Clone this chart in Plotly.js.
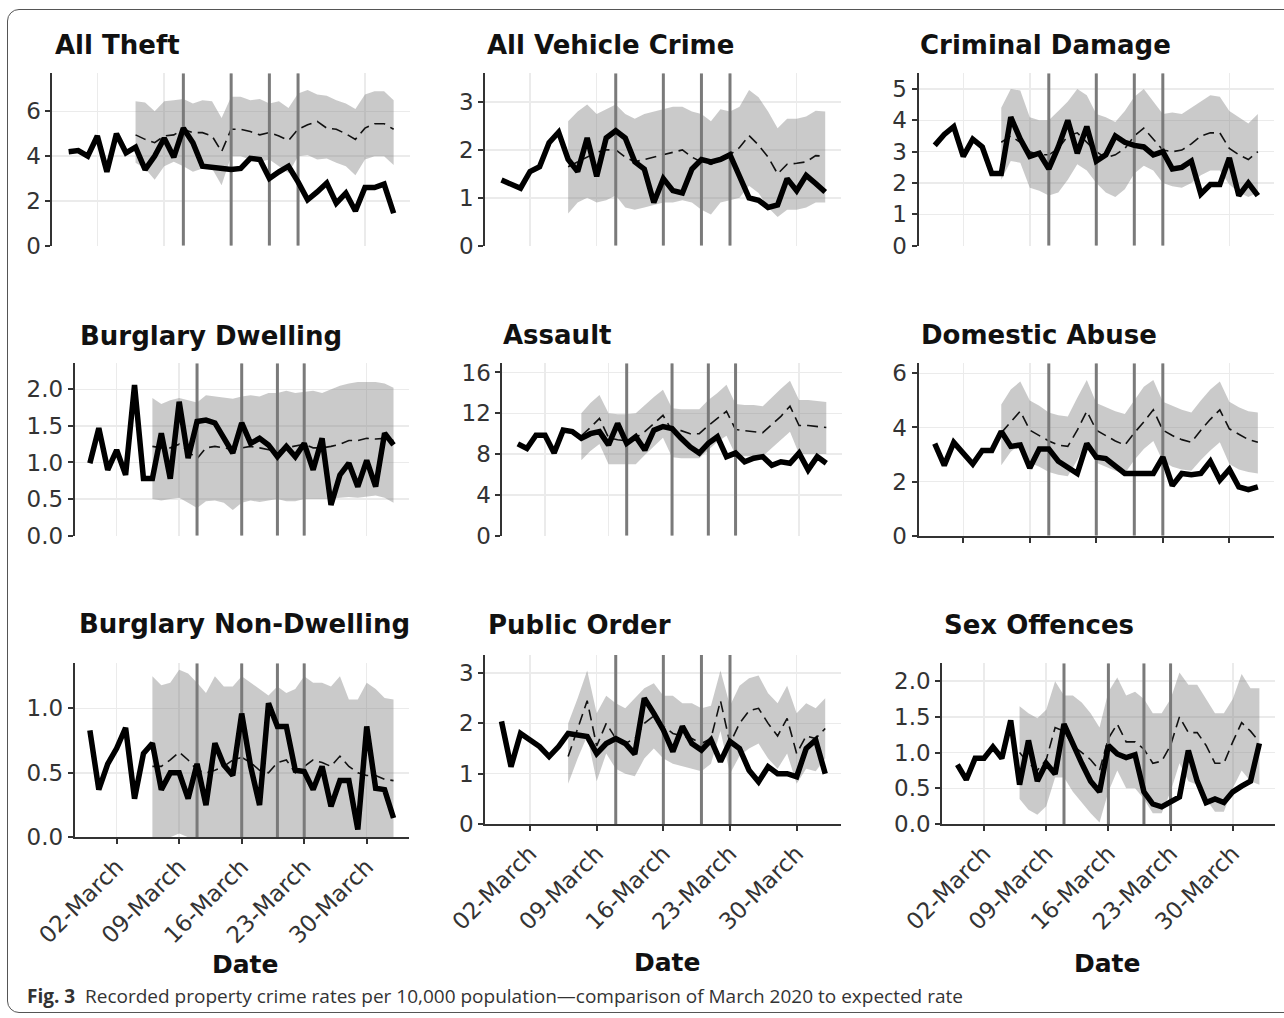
<!DOCTYPE html>
<html><head><meta charset="utf-8">
<script src="https://cdn.plot.ly/plotly-3.0.1.min.js"></script>
<style>
html,body{margin:0;padding:0;background:#fff;}
#frame{position:absolute;left:7px;top:9px;width:1300px;height:1004px;border:1.5px solid #555;border-radius:12px;box-sizing:border-box;}
#chart{position:absolute;left:0;top:0;width:1284px;height:1018px;}
</style></head><body>
<div id="frame"></div>
<div id="chart"></div>
<script>
// ---- shared x data ----
const dates = ['2020-02-28','2020-02-29','2020-03-01','2020-03-02','2020-03-03','2020-03-04','2020-03-05',
  '2020-03-06','2020-03-07','2020-03-08','2020-03-09','2020-03-10','2020-03-11','2020-03-12','2020-03-13',
  '2020-03-14','2020-03-15','2020-03-16','2020-03-17','2020-03-18','2020-03-19','2020-03-20','2020-03-21',
  '2020-03-22','2020-03-23','2020-03-24','2020-03-25','2020-03-26','2020-03-27','2020-03-28','2020-03-29',
  '2020-03-30','2020-03-31','2020-04-01','2020-04-02'];
const expDates = dates.slice(7);
const eventDates = ['2020-03-11','2020-03-16','2020-03-20','2020-03-23'];
const tickDates = ['2020-03-02','2020-03-09','2020-03-16','2020-03-23','2020-03-30'];
const tickLabels = ['02-March','09-March','16-March','23-March','30-March'];
const xRange = ['2020-02-26 07:12','2020-04-03 16:48'];

// ---- All Theft ----
const theftObs = [4.2,4.25,4.0,4.9,3.3,5.0,4.15,4.4,3.4,4.0,4.8,3.95,5.25,4.6,3.55,3.5,3.5,3.4,3.45,3.9,3.85,3.0,3.3,3.55,2.85,2.05,2.4,2.8,1.9,2.35,1.55,2.6,2.6,2.75,1.45];
const theftExp = [4.95,4.75,4.6,4.9,4.95,5.2,5.05,5.05,4.9,4.2,5.2,5.2,5.1,4.95,5.05,4.9,4.7,5.2,5.4,5.55,5.25,5.2,5.0,4.75,5.25,5.45,5.45,5.2];
const theftHi = [6.45,6.4,6.0,6.45,6.5,6.55,6.35,6.5,6.45,5.7,6.65,6.65,6.5,6.55,6.35,6.45,6.15,6.8,6.95,6.75,6.7,6.5,6.35,6.1,6.75,6.9,6.9,6.5];
const theftLo = [3.7,3.45,2.95,3.55,3.75,3.55,3.3,3.45,3.45,2.7,4.0,4.0,3.85,3.75,3.85,3.55,3.25,4.0,4.05,3.85,3.9,3.7,3.55,3.15,3.85,4.0,4.0,3.6];

// ---- All Vehicle Crime ----
const vehObs = [1.37,1.3,1.2,1.55,1.65,2.15,2.37,1.8,1.55,2.25,1.45,2.25,2.4,2.25,1.75,1.6,0.9,1.4,1.15,1.1,1.6,1.8,1.75,1.8,1.9,1.45,1.0,0.95,0.8,0.85,1.4,1.15,1.47,1.3,1.12];
const vehExp = [1.65,1.75,1.85,1.95,2.0,2.0,1.85,1.75,1.8,1.85,1.9,1.95,2.0,1.85,1.75,1.7,1.8,1.9,2.05,2.3,2.1,1.85,1.5,1.7,1.72,1.75,1.88,1.87];
const vehHi = [2.6,2.8,2.95,2.75,2.85,2.95,2.75,2.65,2.75,2.8,2.85,2.9,2.9,2.8,2.75,2.6,2.85,2.8,2.9,3.25,3.1,2.8,2.45,2.65,2.65,2.7,2.82,2.8];
const vehLo = [0.67,0.9,1.0,0.9,0.95,1.05,0.8,0.75,0.8,0.85,0.9,0.9,0.95,0.9,0.75,0.65,0.9,0.95,1.0,1.25,1.1,0.8,0.6,0.75,0.75,0.8,0.9,0.9];

// ---- Criminal Damage ----
const dmgObs = [3.2,3.55,3.8,2.85,3.4,3.15,2.3,2.3,4.1,3.4,2.85,2.95,2.45,3.15,4.0,2.95,3.8,2.7,2.9,3.5,3.3,3.2,3.15,2.9,3.0,2.45,2.5,2.7,1.65,1.95,1.95,2.8,1.6,2.0,1.6];
const dmgExp = [3.3,3.5,3.3,3.0,2.9,2.9,3.1,3.5,3.6,3.3,3.0,2.8,2.9,3.1,3.5,3.75,3.4,3.05,3.0,3.05,3.25,3.5,3.6,3.6,3.1,2.9,2.75,3.0];
const dmgHi = [4.4,5.0,4.95,4.1,4.0,4.0,4.3,4.6,5.0,4.8,4.2,4.1,3.95,4.3,4.75,5.0,4.6,4.2,4.25,4.2,4.4,4.6,4.8,4.75,4.3,4.1,3.9,4.2];
const dmgLo = [2.1,2.7,2.65,1.85,1.75,1.6,1.7,2.1,2.6,2.4,2.0,1.7,1.55,1.8,2.3,2.55,2.4,2.0,1.9,1.85,2.0,2.25,2.4,2.4,1.95,1.7,1.55,1.7];

// ---- Burglary Dwelling ----
const bdObs = [0.99,1.47,0.9,1.17,0.83,2.06,0.78,0.78,1.4,0.78,1.83,1.06,1.56,1.58,1.54,1.35,1.13,1.54,1.26,1.33,1.24,1.08,1.22,1.08,1.26,0.9,1.33,0.42,0.83,0.99,0.67,1.03,0.67,1.4,1.24];
const bdExp = [1.22,1.2,1.2,1.25,1.15,1.05,1.2,1.22,1.2,1.18,1.2,1.22,1.2,1.18,1.15,1.2,1.22,1.25,1.2,1.2,1.22,1.25,1.3,1.3,1.33,1.32,1.33,1.3];
const bdHi = [1.88,1.8,1.85,1.88,1.85,1.82,1.92,1.9,1.88,1.87,1.9,1.92,1.9,1.95,1.95,1.98,1.95,1.97,1.98,1.95,2.0,2.05,2.08,2.1,2.1,2.1,2.08,2.02];
const bdLo = [0.5,0.48,0.5,0.52,0.45,0.38,0.47,0.48,0.45,0.35,0.45,0.48,0.46,0.48,0.5,0.47,0.47,0.5,0.5,0.5,0.5,0.52,0.53,0.52,0.53,0.55,0.52,0.45];

// ---- Assault ----
const asObs = [9.0,8.55,9.85,9.85,8.1,10.35,10.2,9.55,10.0,10.2,8.9,11.0,9.05,9.7,8.4,10.35,10.7,10.5,9.55,8.7,8.1,9.05,9.7,7.75,8.1,7.25,7.6,7.75,6.9,7.25,7.1,8.1,6.45,7.75,7.1];
const asExp = [9.8,10.6,11.5,9.6,9.4,9.3,9.6,10.2,11.0,11.8,10.3,10.3,10.0,10.0,10.8,11.5,12.2,10.4,10.3,10.2,10.1,10.9,11.7,12.7,10.8,10.8,10.7,10.6];
const asHi = [12.0,13.0,13.8,12.0,11.9,11.9,12.0,12.8,13.6,14.3,12.5,12.4,12.4,12.4,13.3,14.0,14.8,12.9,12.8,12.8,12.7,13.6,14.4,15.2,13.3,13.3,13.2,13.1];
const asLo = [7.4,8.3,9.0,7.0,7.0,7.0,7.0,7.9,8.8,9.6,7.7,7.6,7.6,7.6,8.4,9.2,9.8,7.9,7.8,7.8,7.8,8.6,9.4,10.2,8.0,8.0,8.0,8.0];

// ---- Domestic Abuse ----
const daObs = [3.4,2.6,3.45,3.05,2.65,3.15,3.15,3.85,3.3,3.35,2.5,3.2,3.2,2.75,2.55,2.3,3.4,2.9,2.85,2.55,2.3,2.3,2.3,2.3,2.9,1.85,2.3,2.25,2.3,2.75,2.05,2.45,1.8,1.7,1.8];
const daExp = [3.8,4.2,4.6,3.9,3.7,3.5,3.35,3.3,3.9,4.6,3.9,3.7,3.5,3.35,3.8,4.2,4.65,3.9,3.7,3.55,3.45,3.9,4.3,4.65,3.95,3.75,3.55,3.45];
const daHi = [4.85,5.4,5.7,5.0,4.8,4.55,4.45,4.4,5.1,5.75,4.9,4.75,4.6,4.5,5.0,5.5,5.75,4.95,4.8,4.65,4.55,5.0,5.4,5.7,4.95,4.75,4.6,4.55];
const daLo = [2.6,3.1,3.4,2.7,2.55,2.35,2.25,2.2,2.8,3.45,2.7,2.55,2.4,2.3,2.8,3.2,3.5,2.75,2.55,2.45,2.4,2.8,3.15,3.45,2.65,2.45,2.35,2.3];

// ---- Burglary Non-Dwelling ----
const bnObs = [0.83,0.37,0.57,0.69,0.85,0.3,0.65,0.73,0.37,0.5,0.5,0.3,0.57,0.25,0.73,0.56,0.48,0.96,0.55,0.25,1.04,0.86,0.86,0.52,0.51,0.37,0.55,0.24,0.44,0.44,0.06,0.86,0.38,0.37,0.15];
const bnExp = [0.55,0.55,0.6,0.66,0.6,0.52,0.5,0.52,0.55,0.6,0.62,0.58,0.52,0.5,0.58,0.6,0.5,0.55,0.6,0.58,0.55,0.63,0.55,0.5,0.48,0.48,0.45,0.44];
const bnHi = [1.25,1.18,1.2,1.3,1.27,1.2,1.12,1.25,1.17,1.17,1.25,1.2,1.15,1.1,1.17,1.12,1.15,1.25,1.2,1.2,1.17,1.25,1.07,1.07,1.2,1.15,1.08,1.07];
const bnLo = [0,0,0,0.03,0,0,0,0,0,0,0,0,0,0,0,0,0,0,0,0,0,0,0,0,0,0,0,0];

// ---- Public Order ----
const poObs = [2.04,1.14,1.8,1.67,1.54,1.34,1.54,1.8,1.77,1.74,1.4,1.6,1.7,1.6,1.39,2.5,2.2,1.87,1.44,1.94,1.6,1.47,1.67,1.24,1.64,1.5,1.07,0.84,1.14,1.0,1.0,0.94,1.5,1.67,1.0];
const poExp = [1.34,1.9,2.45,1.55,2.0,1.7,1.6,1.7,2.0,2.15,1.95,1.8,1.75,1.7,1.6,1.7,2.45,1.6,2.0,2.25,2.3,2.0,1.75,2.1,1.4,1.75,1.7,1.9];
const poHi = [2.0,2.5,3.05,2.2,2.55,2.4,2.3,2.5,2.7,2.8,2.55,2.55,2.4,2.4,2.3,2.35,3.05,2.35,2.75,2.9,2.95,2.6,2.4,2.75,2.2,2.4,2.3,2.5];
const poLo = [0.8,1.3,1.75,0.85,1.4,1.1,1.0,0.95,1.3,1.5,1.3,1.2,1.15,1.1,1.05,1.2,1.85,1.0,1.35,1.5,1.6,1.3,1.1,1.4,0.8,1.1,1.05,1.3];

// ---- Sex Offences ----
const soObs = [0.83,0.62,0.92,0.92,1.08,0.92,1.45,0.55,1.17,0.6,0.85,0.7,1.4,1.1,0.85,0.6,0.45,1.1,0.98,0.93,0.97,0.45,0.28,0.24,0.3,0.38,1.03,0.6,0.3,0.35,0.3,0.45,0.53,0.6,1.13];
const soExp = [1.0,0.85,0.75,0.9,1.35,1.3,1.1,1.0,0.9,0.75,1.2,1.4,1.15,1.15,1.05,0.85,0.88,1.1,1.5,1.28,1.28,1.1,0.85,0.85,1.15,1.42,1.3,1.15];
const soHi = [1.65,1.55,1.48,1.6,2.0,1.8,1.8,1.7,1.55,1.35,1.85,2.05,1.8,1.85,1.75,1.55,1.55,1.75,2.12,1.95,1.95,1.75,1.55,1.55,1.75,2.1,1.9,1.9];
const soLo = [0.35,0.2,0.13,0.25,0.65,0.65,0.45,0.3,0.15,0.02,0.45,0.75,0.5,0.5,0.35,0.15,0.15,0.45,0.85,0.6,0.55,0.35,0.17,0.17,0.5,0.75,0.6,0.55];

// ---- panel layout (pixel boxes) ----
const W = 1284, H = 1018;
const panels = [
  {title:'All Theft', obs:theftObs, exp:theftExp, hi:theftHi, lo:theftLo, ymax:7.7, dtick:2, fmt:'', px:[52.4,409.9], py:[73.3,245.7], tp:[53,45], xline:false, xlab:false},
  {title:'All Vehicle Crime', obs:vehObs, exp:vehExp, hi:vehHi, lo:vehLo, ymax:3.6, dtick:1, fmt:'', px:[485.3,841.4], py:[73.3,245.7], tp:[485,45], xline:false, xlab:false},
  {title:'Criminal Damage', obs:dmgObs, exp:dmgExp, hi:dmgHi, lo:dmgLo, ymax:5.5, dtick:1, fmt:'', px:[918.6,1274], py:[73.3,245.7], tp:[918,45], xline:false, xlab:false},
  {title:'Burglary Dwelling', obs:bdObs, exp:bdExp, hi:bdHi, lo:bdLo, ymax:2.355, dtick:0.5, fmt:'.1f', px:[74.7,408.7], py:[363.3,535.7], tp:[78,336], xline:false, xlab:false},
  {title:'Assault', obs:asObs, exp:asExp, hi:asHi, lo:asLo, ymax:16.9, dtick:4, fmt:'', px:[502.4,841.7], py:[363.3,535.7], tp:[501,335], xline:false, xlab:false},
  {title:'Domestic Abuse', obs:daObs, exp:daExp, hi:daHi, lo:daLo, ymax:6.37, dtick:2, fmt:'', px:[918.6,1274], py:[363.3,535.7], tp:[919,335], xline:true, xlab:false},
  {title:'Burglary Non-Dwelling', obs:bnObs, exp:bnExp, hi:bnHi, lo:bnLo, ymax:1.35, dtick:0.5, fmt:'.1f', px:[74.7,408.7], py:[663.3,837.3], tp:[77,624], xline:true, xlab:true},
  {title:'Public Order', obs:poObs, exp:poExp, hi:poHi, lo:poLo, ymax:3.36, dtick:1, fmt:'', px:[485.3,841.4], py:[655,824], tp:[486,625], xline:true, xlab:true},
  {title:'Sex Offences', obs:soObs, exp:soExp, hi:soHi, lo:soLo, ymax:2.25, dtick:0.5, fmt:'.1f', px:[942.3,1274.5], py:[663.3,824], tp:[942,625], xline:true, xlab:true}
];
const datePos = [[245,964],[668,962],[1107,963]];

const tickFont = {family:'DejaVu Sans', size:23, color:'#333'};
const traces = [];
const layout = {
  width:W, height:H, margin:{l:0,r:0,t:0,b:0},
  paper_bgcolor:'rgba(0,0,0,0)', plot_bgcolor:'#fff', showlegend:false,
  font:{family:'DejaVu Sans', color:'#333'}, annotations:[]
};

panels.forEach((p,k)=>{
  const s = k===0 ? '' : String(k+1);
  const xr = 'x'+s, yr = 'y'+s;
  layout['xaxis'+s] = {
    domain:[p.px[0]/W, p.px[1]/W], anchor:yr, type:'date', range:xRange,
    tickmode:'array', tickvals:tickDates, ticktext:tickLabels,
    showgrid:true, gridcolor:'#ebebeb', gridwidth:1.5, zeroline:false,
    showline:p.xline, linecolor:'#333', linewidth:2,
    ticks:p.xline?'outside':'', ticklen:5, tickwidth:2, tickcolor:'#333',
    showticklabels:p.xlab, tickangle:-45, tickfont:tickFont, fixedrange:true
  };
  layout['yaxis'+s] = {
    domain:[1-p.py[1]/H, 1-p.py[0]/H], anchor:xr, range:[0,p.ymax],
    tick0:0, dtick:p.dtick, tickformat:p.fmt,
    showgrid:true, gridcolor:'#ebebeb', gridwidth:1.5, zeroline:false,
    showline:true, linecolor:'#333', linewidth:2,
    ticks:'outside', ticklen:5, tickwidth:2, tickcolor:'#333',
    tickfont:tickFont, fixedrange:true
  };
  // ribbon
  traces.push({x:expDates, y:p.lo, xaxis:xr, yaxis:yr, type:'scatter', mode:'lines',
    line:{width:0, color:'rgba(0,0,0,0)'}, hoverinfo:'skip'});
  traces.push({x:expDates, y:p.hi, xaxis:xr, yaxis:yr, type:'scatter', mode:'lines',
    fill:'tonexty', fillcolor:'rgba(128,128,128,0.42)', line:{width:0, color:'rgba(0,0,0,0)'}, hoverinfo:'skip'});
  // expected (dashed)
  traces.push({x:expDates, y:p.exp, xaxis:xr, yaxis:yr, type:'scatter', mode:'lines',
    line:{color:'#111', width:1.6, dash:'11px,6px'}});
  // event lines
  const vx = [], vy = [];
  eventDates.forEach(d=>{ vx.push(d,d,null); vy.push(0,p.ymax,null); });
  traces.push({x:vx, y:vy, xaxis:xr, yaxis:yr, type:'scatter', mode:'lines',
    line:{color:'#7a7a7a', width:3}, hoverinfo:'skip', connectgaps:false});
  // observed
  traces.push({x:dates, y:p.obs, xaxis:xr, yaxis:yr, type:'scatter', mode:'lines',
    line:{color:'#000', width:5.5}});
  // title
  layout.annotations.push({text:'<b>'+p.title+'</b>', xref:'paper', yref:'paper',
    x:p.tp[0]/W, y:1-p.tp[1]/H, xanchor:'left', yanchor:'middle', showarrow:false,
    font:{family:'DejaVu Sans', size:26, color:'#111'}});
});

datePos.forEach(dp=>{
  layout.annotations.push({text:'<b>Date</b>', xref:'paper', yref:'paper', x:dp[0]/W, y:1-dp[1]/H,
    xanchor:'center', yanchor:'middle', showarrow:false, font:{family:'DejaVu Sans', size:25, color:'#111'}});
});
layout.annotations.push({text:'<b>Fig. 3</b>  Recorded property crime rates per 10,000 population\u2014comparison of March 2020 to expected rate',
  xref:'paper', yref:'paper', x:25/W, y:1-996/H, xanchor:'left', yanchor:'middle', showarrow:false,
  font:{family:'Open Sans', size:19, color:'#333'}});

Plotly.newPlot('chart', traces, layout, {staticPlot:true, displayModeBar:false});
</script>
</body></html>
